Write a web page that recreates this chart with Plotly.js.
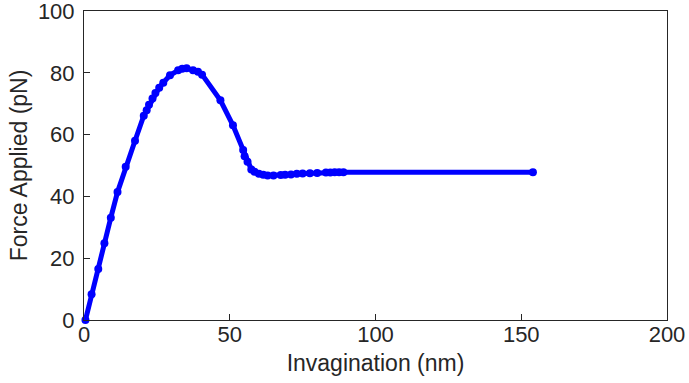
<!DOCTYPE html>
<html>
<head>
<meta charset="utf-8">
<script src="https://cdn.plot.ly/plotly-3.0.1.min.js"></script>
<style>html,body{margin:0;padding:0;background:#fff;}#chart{width:689px;height:383px;}</style>
</head>
<body>
<div id="chart"></div>
<script>
const invagination = [0.5, 2.6, 4.9, 7.0, 9.2, 11.5, 14.3, 17.5, 20.5, 21.5, 22.3, 23.5, 24.5, 25.8, 27.2, 29.5, 32.3, 33.7, 35.2, 37.4, 39.1, 40.5, 46.8, 51.1, 54.6, 55.1, 56.1, 57.4, 58.5, 60.0, 61.5, 63.0, 65.0, 67.5, 69.0, 71.0, 73.0, 75.0, 77.5, 80.0, 83.0, 84.5, 86.0, 87.5, 89.0, 154.0];
const force = [0, 8.3, 16.5, 24.8, 33.1, 41.4, 49.6, 58.0, 66.1, 67.9, 69.7, 71.7, 73.5, 75.2, 76.8, 79.2, 80.8, 81.3, 81.5, 80.8, 80.3, 79.4, 71.1, 63.0, 55.0, 53.0, 51.2, 48.7, 48.0, 47.3, 47.0, 46.8, 46.8, 46.9, 47.0, 47.1, 47.3, 47.4, 47.5, 47.6, 47.7, 47.7, 47.8, 47.8, 47.8, 47.8];
const xTicks = [0, 50, 100, 150, 200];
const yTicks = [0, 20, 40, 60, 80, 100];

const FONT = 'Liberation Sans, Arial, Helvetica, sans-serif';
const axisCommon = {
  showgrid: false, zeroline: false, showline: true, mirror: true,
  linecolor: '#262626', linewidth: 1,
  ticks: 'inside', ticklen: 6, tickcolor: '#262626', tickwidth: 1,
  tickfont: {family: FONT, size: 22, color: '#262626'},
  tickmode: 'array', ticklabeloverflow: 'allow'
};

Plotly.newPlot('chart', [{
  x: invagination, y: force, type: 'scatter', mode: 'lines+markers',
  line: {color: '#0000ff', width: 5},
  marker: {color: '#0000ff', size: 8},
  cliponaxis: false
}], {
  width: 689, height: 383,
  margin: {l: 84, r: 22, t: 11, b: 63},
  paper_bgcolor: '#fff', plot_bgcolor: '#fff',
  showlegend: false,
  xaxis: Object.assign({}, axisCommon, {
    range: [0, 200], tickvals: xTicks, ticktext: xTicks.map(String),
    ticklabelstandoff: -5,
    title: {text: 'Invagination (nm)', font: {family: FONT, size: 23, color: '#262626'}, standoff: 8}
  }),
  yaxis: Object.assign({}, axisCommon, {
    range: [0, 100], tickvals: yTicks, ticktext: yTicks.map(String),
    ticklabelstandoff: 4,
    title: {text: 'Force Applied (pN)', font: {family: FONT, size: 23, color: '#262626'}, standoff: 3}
  })
}, {displayModeBar: false, staticPlot: true});
</script>
</body>
</html>
